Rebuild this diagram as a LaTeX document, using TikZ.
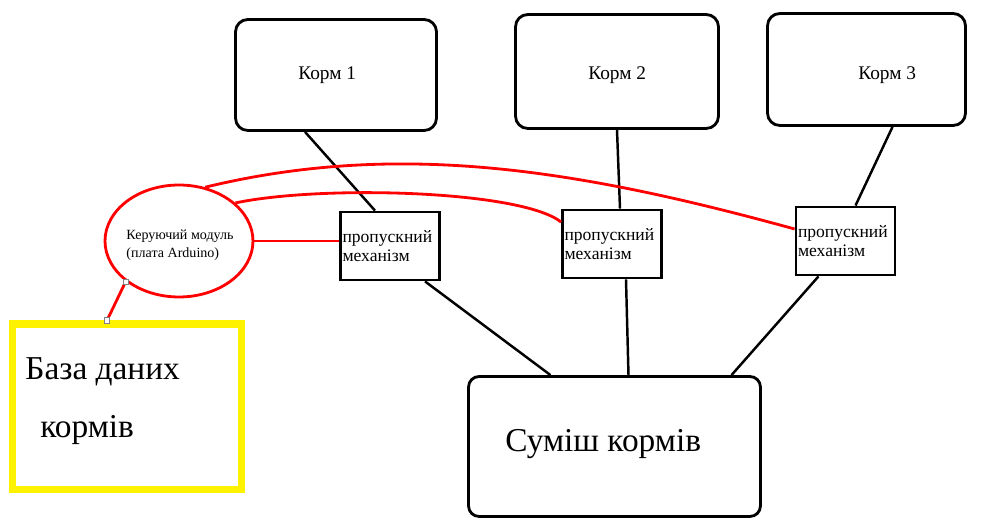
\documentclass[tikz,border=0pt]{standalone}
\usepackage{fontspec}
\setmainfont{Liberation Serif}
\usetikzlibrary{calc,shapes.geometric}

\begin{document}
\begin{tikzpicture}[x=0.02cm, y=-0.02cm,
    kormbox/.style={draw, line width=1.6pt, rounded corners=7pt},
    mechbox/.style={draw, line width=1.6pt, minimum width=1.98cm, minimum height=1.36cm,
        text width=1.9cm, inner xsep=1pt, align=left, font=\fontsize{10}{10.8}\selectfont},
    ctrl/.style={draw=red, line width=1.6pt, ellipse, minimum width=2.96cm, minimum height=2.24cm},
    dbbox/.style={draw=yellow, line width=4pt, minimum width=4.6cm, minimum height=3.32cm},
    plain/.style={inner sep=0pt, anchor=base west},
    link/.style={line width=1.4pt},
    redlink/.style={draw=red, line width=1.6pt},
    handle/.style={draw=gray, fill=white, line width=0.5pt, minimum size=3pt, inner sep=0pt}]
    %\draw[help lines, color=gray!30, dashed] (0,0) grid[step=50] (985,519);
    \useasboundingbox (0,0) rectangle (985,519);
    \node[kormbox, minimum width=4.02cm, minimum height=2.22cm] (k1) at (336,75) {};
    \node[kormbox, minimum width=4.06cm, minimum height=2.28cm] (k2) at (617,71.5) {};
    \node[kormbox, minimum width=3.96cm, minimum height=2.24cm] (k3) at (866.5,69.5) {};
    \node[plain, font=\fontsize{11}{12}\selectfont] (k1txt) at (298,80) {Корм 1};
    \node[plain, font=\fontsize{11}{12}\selectfont] (k2txt) at (588,80) {Корм 2};
    \node[plain, font=\fontsize{11}{12}\selectfont] (k3txt) at (858,80) {Корм 3};
    \node[mechbox] (m1) at (390,246) {пропускний\\механізм};
    \node[mechbox] (m2) at (612,244) {пропускний\\механізм};
    \node[mechbox] (m3) at (845.5,241) {пропускний\\механізм};
    \node[draw, line width=1.6pt, rounded corners=6pt, minimum width=5.84cm, minimum height=2.8cm] (mix) at (614.5,446.5) {};
    \node[plain, font=\fontsize{19}{22}\selectfont] (mixtxt) at (505,452) {Суміш кормів};
    \node[ctrl] (ctrl) at (179,241) {};
    \node[align=left, font=\fontsize{8}{10}\selectfont, inner sep=0pt] (ctrltxt) at (180,245) {Керуючий модуль\\(плата Arduino)};
    \node[dbbox] (db) at (127,407) {};
    \node[plain, font=\fontsize{19}{22}\selectfont] (dbtxt1) at (25,380) {База даних};
    \node[plain, font=\fontsize{19}{22}\selectfont] (dbtxt2) at (40,438) {кормів};
    % feed to mechanism
    \draw[link] ($(k1.south)+(-31,0)$) -- ($(m1.north)+(-15,0)$);
    \draw[link] ($(k2.south)+(0,0)$) -- ($(m2.north)+(8,0)$);
    \draw[link] ($(k3.south)+(26,0)$) -- ($(m3.north)+(10,0)$);
    % mechanism to mixture
    \draw[link] ($(m1.south)+(35,0)$) -- ($(mix.north)+(-64,0)$);
    \draw[link] ($(m2.south)+(14,0)$) -- ($(mix.north)+(14,0)$);
    \draw[link] ($(m3.south)+(-27,0)$) -- ($(mix.north)+(117,0)$);
    % control lines
    \draw[redlink] (ctrl.east) -- (ctrl.east -| m1.west);
    \draw[redlink] (ctrl.34) .. controls (320,185) and (520,190) .. ($(m2.west)+(0,-22)$);
    \draw[redlink] (ctrl.64) .. controls (400,140) and (580,170) .. ($(m3.west)+(0,-12)$);
    \draw[redlink] (ctrl.south west) -- ($(db.north)+(-20,0)$);
    \node[handle] (h1) at (ctrl.south west) {};
    \node[handle] (h2) at ($(db.north)+(-20,0)$) {};
\end{tikzpicture}
\end{document}
